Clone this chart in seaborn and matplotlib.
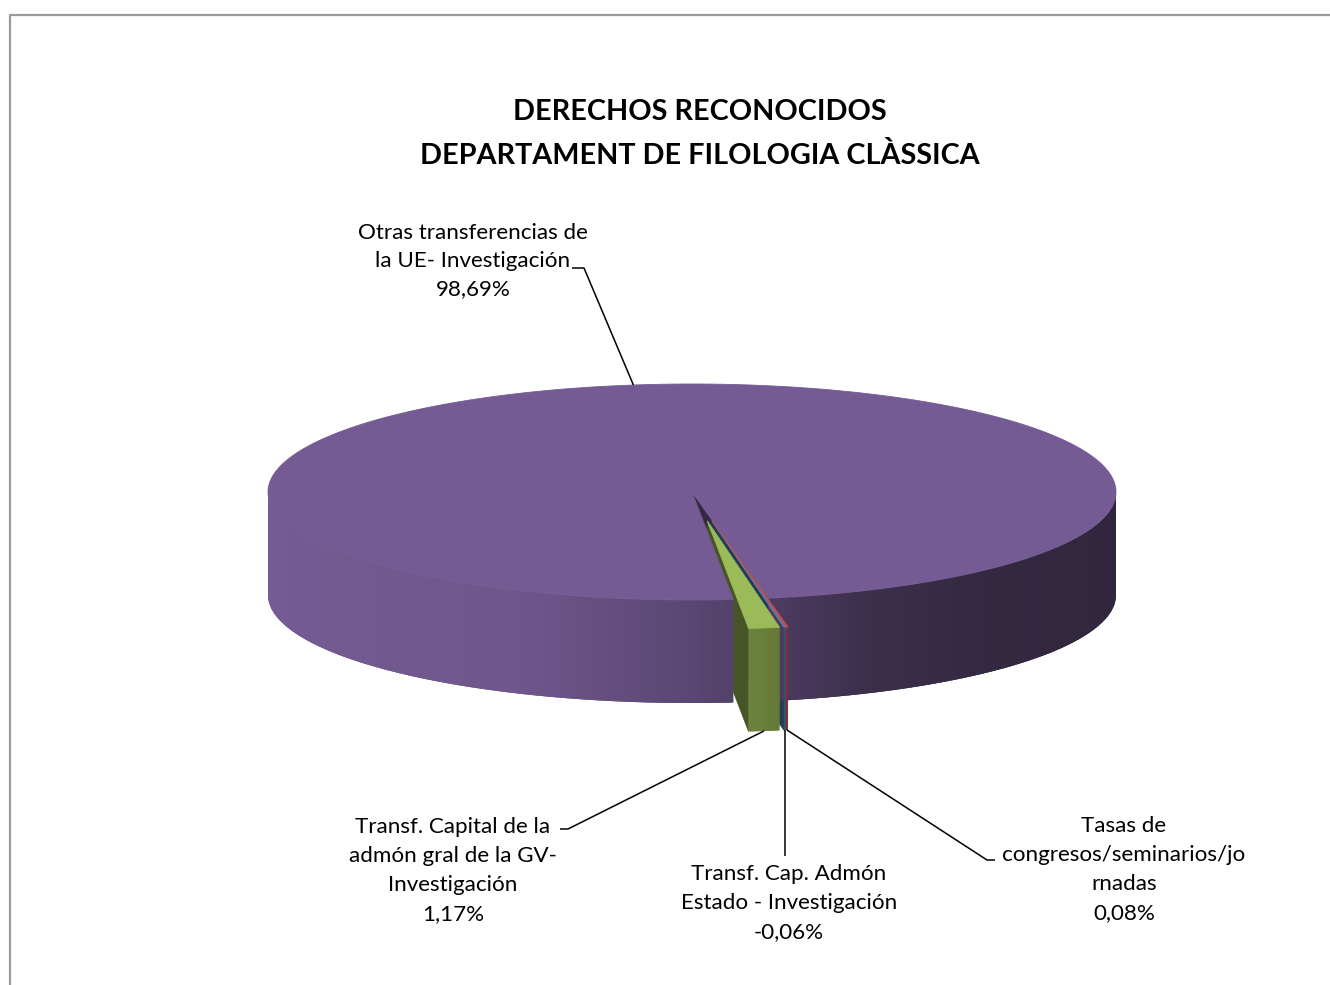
import numpy as np
import pandas as pd
import matplotlib
matplotlib.use("Agg")
import matplotlib.pyplot as plt
from matplotlib.patches import Polygon
from matplotlib.colors import to_rgb
import seaborn as sns

# ---------------- data ----------------
categories = [
    "Otras transferencias de la UE- Investigación",
    "Transf. Capital de la admón gral de la GV-Investigación",
    "Transf. Cap. Admón Estado - Investigación",
    "Tasas de congresos/seminarios/jornadas",
]
values = [98.69, 1.17, -0.06, 0.08]
value_labels = ["98,69%", "1,17%", "-0,06%", "0,08%"]
label_lines = [
    ["Otras transferencias de", "la UE- Investigación"],
    ["Transf. Capital de la", "admón gral de la GV-", "Investigación"],
    ["Transf. Cap. Admón", "Estado - Investigación"],
    ["Tasas de", "congresos/seminarios/jo", "rnadas"],
]
title_lines = ["DERECHOS RECONOCIDOS", "DEPARTAMENT DE FILOLOGIA CLÀSSICA"]
top_colors = ["#745B93", "#9BBB59", "#4F81BD", "#C0504D"]
exploded = [False, True, True, True]

df = pd.DataFrame({"cat": categories, "val": values, "lab": value_labels,
                   "color": top_colors, "explode": exploded})

# ---------------- style ----------------
sns.set_theme(style="white")
plt.rcParams["font.family"] = ["Lato", "DejaVu Sans"]

W, H = 1330, 985
fig = plt.figure(figsize=(W / 100, H / 100), dpi=100)
ax = fig.add_axes([0, 0, 1, 1])
ax.set_xlim(0, W)
ax.set_ylim(H, 0)
ax.axis("off")
renderer = fig.canvas.get_renderer()


def fit_size(text, target_px, weight="normal", s0=20):
    t = ax.text(0, 0, text, fontsize=s0, fontweight=weight)
    w = t.get_window_extent(renderer).width
    t.remove()
    return s0 * target_px / w


# ---------------- 3D pie geometry ----------------
cx, cy, a, b, depth = 692, 492, 424, 108, 103
explode_r = 0.27
start_angle = -79.7

shares = df["val"].abs() / df["val"].abs().sum() * 360.0
th1 = start_angle + np.concatenate([[0], np.cumsum(shares.values)[:-1]])
th2 = th1 + shares.values
df["th1"], df["th2"] = th1, th2
df["mid"] = (th1 + th2) / 2

side_t = [0.0, 0.30, 0.45, 0.55, 0.70, 0.85, 1.0]
side_f = [1.0, 0.95, 0.82, 0.72, 0.52, 0.44, 0.42]


def shade(c, f):
    return tuple(np.clip(np.array(to_rgb(c)) * f, 0, 1))


def proj(th, r, z, ox, oy):
    t = np.radians(th)
    return (cx + ox + r * a * np.cos(t), cy + oy - r * b * np.sin(t) + z)


def offsets(row):
    if not row.explode:
        return 0.0, 0.0
    m = np.radians(row.mid)
    return explode_r * a * np.cos(m), -explode_r * b * np.sin(m)


def poly(pts, color, z, lw=0.6):
    ax.add_patch(Polygon(pts, closed=True, facecolor=color,
                         edgecolor=color if lw > 0 else "none",
                         lw=lw, zorder=z))


def front_intervals(t1, t2):
    out = []
    for k in (-1, 0, 1, 2):
        lo, hi = -180 + 360 * k, 360 * k
        s, e = max(t1, lo), min(t2, hi)
        if e > s:
            out.append((s - 360 * k, e - 360 * k))
    return out


def side_band(ua, ub, ox, oy, n=8):
    angs = np.linspace(ua, ub, n)
    top = [proj(t, 1, 0, ox, oy) for t in angs]
    bot = [proj(t, 1, depth, ox, oy) for t in angs[::-1]]
    return top + bot


def draw_cut_faces(sub, z):
    faces = []
    for row in sub.itertuples():
        ox, oy = offsets(row)
        for th, vis in ((row.th1, np.cos(np.radians(row.th1)) > 0),
                        (row.th2, np.cos(np.radians(row.th2)) < 0)):
            if vis:
                pts = [proj(th, 0, 0, ox, oy), proj(th, 1, 0, ox, oy),
                       proj(th, 1, depth, ox, oy), proj(th, 0, depth, ox, oy)]
                faces.append((pts[1][1], pts, shade(row.color, 0.45)))
    for _, pts, col in sorted(faces, key=lambda f: f[0]):
        poly(pts, col, z)


def draw_sides(sub, z):
    for row in sub.itertuples():
        ox, oy = offsets(row)
        for u0, u1 in front_intervals(row.th1, row.th2):
            c0, c1 = np.cos(np.radians(u0)), np.cos(np.radians(u1))
            xm = cx + ox + a * (c0 + c1) / 2
            fm = np.interp((xm - (cx - a)) / (2 * a), side_t, side_f)
            poly(side_band(u0, u1, ox, oy, 240), shade(row.color, fm), z, lw=0)
            n = max(1, int(np.ceil(a * (c1 - c0) / 3)))
            cs = np.linspace(c0, c1, n + 1)
            for k in range(n):
                ca, cb = cs[k], min(cs[k + 1] + 1.5 / a, c1)
                ua = -np.degrees(np.arccos(np.clip(ca, -1, 1)))
                ub = -np.degrees(np.arccos(np.clip(cb, -1, 1)))
                x_mid = cx + ox + a * (cs[k] + cs[k + 1]) / 2
                f = np.interp((x_mid - (cx - a)) / (2 * a), side_t, side_f)
                poly(side_band(ua, ub, ox, oy), shade(row.color, f), z + 0.1, lw=0)


def draw_tops(sub, z):
    for row in sub.itertuples():
        ox, oy = offsets(row)
        n = max(2, int((row.th2 - row.th1) / 0.4))
        angs = np.linspace(row.th1, row.th2, n + 1)
        pts = [proj(0, 0, 0, ox, oy)] + [proj(t, 1, 0, ox, oy) for t in angs]
        poly(pts, row.color, z)


base = df[~df["explode"]]
pulled = df[df["explode"]]
draw_cut_faces(base, 1)
draw_cut_faces(pulled, 2)
draw_sides(base, 3)
draw_tops(base, 4)
draw_sides(pulled, 5)
draw_tops(pulled, 6)

# ---------------- labels & leader lines ----------------
lab_size = fit_size("Otras transferencias de", 230)
title_size = fit_size(title_lines[1], 558, weight="bold")

anchors = []
for row in df.itertuples():
    ox, oy = offsets(row)
    anchors.append(proj(row.mid, 1, 0 if not row.explode else depth, ox, oy))

label_pos = [(473, 239, 28), (453, 833, 29), (789, 880, 29), (1124, 832, 29)]
for i, row in enumerate(df.itertuples()):
    x0, y0, step = label_pos[i]
    for j, line in enumerate(label_lines[i] + [row.lab]):
        ax.text(x0, y0 + j * step, line, ha="center", va="baseline",
                fontsize=lab_size, color="black", zorder=20)

lc = dict(color="black", lw=1.1, zorder=15, solid_capstyle="butt")
ax.plot([572, 584, anchors[0][0]], [268, 268, anchors[0][1]], **lc)
ax.plot([560, 568, anchors[1][0]], [829, 829, anchors[1][1]], **lc)
ax.plot([anchors[2][0], anchors[2][0]], [anchors[2][1], 856], **lc)
ax.plot([anchors[3][0], 987, 995], [anchors[3][1], 860, 860], **lc)

for j, line in enumerate(title_lines):
    ax.text(700, 120 + j * 44, line, ha="center", va="baseline",
            fontsize=title_size, fontweight="bold", color="black", zorder=20)

# chart frame
ax.plot([10, 10, W + 5], [H + 5, 15, 15], color="#9A9A9A", lw=1.6,
        clip_on=False, zorder=30)

fig.savefig("out.png", dpi=100)
